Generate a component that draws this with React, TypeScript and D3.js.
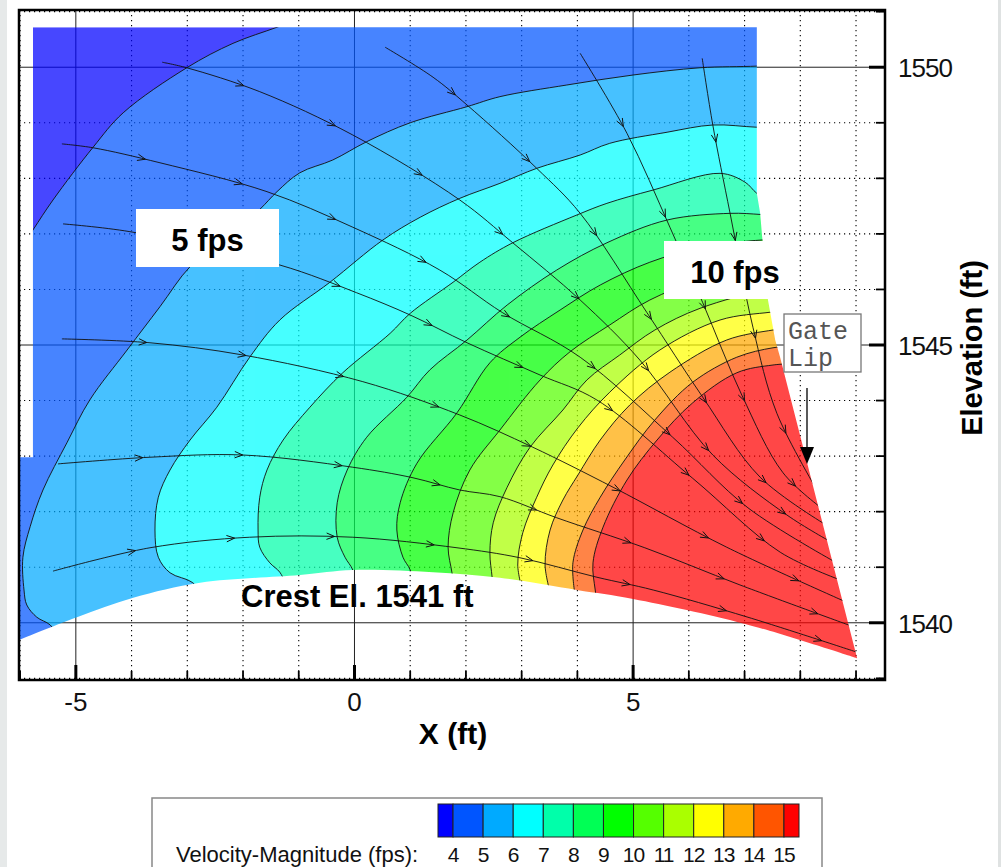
import { useEffect, useRef } from "react";
import * as d3 from "d3";

type Pt = [number, number];

// velocity levels (fps) and the legend colours (13 bands: <4, 4-5, ... 14-15, >15)
const levels = [4, 5, 6, 7, 8, 9, 10, 11, 12, 13, 14, 15];
const bandColors = [
  "#0000ff", "#0055ff", "#00aaff", "#00ffff", "#00ffaa", "#00ff55", "#00ff00",
  "#55ff00", "#aaff00", "#ffff00", "#ffaa00", "#ff5500", "#ff0000",
];

// isolines: [X ft, elevation ft], upper/right end first
const iso4: Pt[] = [[-0.8, 1550.94], [-1.39, 1550.72], [-2.18, 1550.43], [-3.01, 1549.99], [-4.15, 1549.18], [-4.69, 1548.56], [-5.41, 1547.61], [-5.77, 1547.07], [-6.18, 1546.44]];
const iso5: Pt[] = [[7.82, 1550.06], [7.22, 1550.02], [6.2, 1549.99], [5.0, 1549.86], [3.81, 1549.68], [2.61, 1549.47], [2.02, 1549.29], [1.0, 1549.0], [0.22, 1548.66], [-0.39, 1548.33], [-0.98, 1548.1], [-1.39, 1547.76], [-1.7, 1547.44], [-2.32, 1546.9], [-2.95, 1546.41], [-3.49, 1545.69], [-4.08, 1544.91], [-4.75, 1544.01], [-5.16, 1543.24], [-5.59, 1542.39], [-5.82, 1541.73], [-5.95, 1541.18], [-5.93, 1540.59], [-5.88, 1540.32], [-5.7, 1540.1], [-5.46, 1539.96], [-5.25, 1539.65]];
const iso6: Pt[] = [[7.82, 1548.91], [7.22, 1548.92], [6.43, 1548.96], [5.61, 1548.83], [4.58, 1548.63], [4.05, 1548.42], [3.27, 1548.18], [2.61, 1547.91], [1.89, 1547.64], [1.18, 1547.3], [0.51, 1546.89], [-0.44, 1546.13], [-1.34, 1545.45], [-1.88, 1544.78], [-2.47, 1543.88], [-2.95, 1543.29], [-3.31, 1542.75], [-3.52, 1542.26], [-3.58, 1541.67], [-3.52, 1541.18], [-3.31, 1540.9], [-2.9, 1540.72], [-2.68, 1540.41]];
const iso7: Pt[] = [[7.55, 1547.52], [7.22, 1547.73], [7.01, 1547.93], [6.56, 1548.09], [5.36, 1547.79], [4.53, 1547.55], [3.99, 1547.34], [2.84, 1546.84], [2.25, 1546.49], [1.77, 1546.13], [1.0, 1545.57], [0.64, 1545.21], [-0.21, 1544.5], [-0.8, 1543.88], [-1.28, 1543.29], [-1.57, 1542.75], [-1.7, 1542.26], [-1.73, 1541.67], [-1.7, 1541.36], [-1.52, 1541.08], [-1.34, 1540.91], [-1.16, 1540.55]];
const iso8: Pt[] = [[7.64, 1547.32], [7.28, 1547.35], [6.74, 1547.37], [5.61, 1547.25], [4.53, 1546.84], [3.63, 1546.35], [2.74, 1545.72], [2.02, 1545.09], [1.35, 1544.55], [0.94, 1544.06], [0.22, 1543.34], [-0.13, 1542.75], [-0.31, 1542.16], [-0.31, 1541.54], [-0.17, 1541.18], [-0.03, 1540.95], [0.06, 1540.55]];
const iso9: Pt[] = [[7.73, 1546.89], [7.31, 1546.89], [6.2, 1546.75], [5.3, 1546.49], [4.41, 1546.08], [3.69, 1545.63], [2.97, 1545.14], [2.43, 1544.68], [1.84, 1543.78], [1.12, 1542.87], [0.82, 1542.16], [0.76, 1541.67], [0.87, 1541.18], [1.0, 1540.95], [1.09, 1540.55]];
const iso10: Pt[] = [[7.73, 1546.44], [7.37, 1546.44], [6.2, 1546.17], [5.3, 1545.81], [4.58, 1545.36], [3.87, 1544.88], [3.33, 1544.37], [2.61, 1543.47], [2.07, 1542.75], [1.77, 1541.98], [1.68, 1541.36], [1.75, 1540.9], [1.8, 1540.55]];
const iso11: Pt[] = [[7.82, 1545.99], [7.42, 1545.99], [6.2, 1545.66], [5.39, 1545.27], [4.76, 1544.82], [4.17, 1544.37], [3.74, 1543.83], [3.15, 1543.16], [2.74, 1542.44], [2.49, 1541.8], [2.43, 1541.26], [2.47, 1540.82], [2.5, 1540.46]];
const iso12: Pt[] = [[7.82, 1545.63], [7.46, 1545.59], [6.56, 1545.45], [5.48, 1544.91], [4.58, 1544.15], [4.01, 1543.51], [3.56, 1542.84], [3.27, 1542.26], [3.02, 1541.62], [2.93, 1541.04], [3.01, 1540.59]];
const iso13: Pt[] = [[7.82, 1545.31], [7.51, 1545.27], [6.68, 1545.09], [5.66, 1544.51], [4.94, 1543.92], [4.41, 1543.29], [4.01, 1542.66], [3.74, 1542.21], [3.51, 1541.67], [3.42, 1541.04], [3.51, 1540.55]];
const iso14: Pt[] = [[7.9, 1544.98], [7.51, 1544.95], [6.86, 1544.78], [6.07, 1544.33], [5.39, 1543.65], [4.85, 1542.93], [4.41, 1542.26], [4.1, 1541.67], [3.92, 1541.08], [3.95, 1540.55]];
const iso15: Pt[] = [[7.99, 1544.67], [7.51, 1544.64], [6.86, 1544.5], [6.07, 1543.96], [5.43, 1543.29], [4.89, 1542.57], [4.46, 1541.72], [4.28, 1541.08], [4.32, 1540.59], [4.37, 1540.27]];
const isolines = [iso4, iso5, iso6, iso7, iso8, iso9, iso10, iso11, iso12, iso13, iso14, iso15];

// flow region: upstream edge, top, gate lip and gate face, then the crest
const domainOutline: Pt[] = [[-6.3, 1542.98], [-5.77, 1542.98], [-5.77, 1550.72], [7.22, 1550.72], [7.22, 1547.73], [7.28, 1547.37], [7.31, 1547.01], [7.42, 1545.81], [7.55, 1545.09], [7.64, 1544.77], [9.02, 1539.36]];
const crest: Pt[] = [[9.02, 1539.36], [7.01, 1539.98], [5.0, 1540.43], [3.99, 1540.59], [2.61, 1540.81], [1.41, 1540.91], [-0.03, 1540.95], [-0.98, 1540.86], [-2.77, 1540.72], [-3.97, 1540.45], [-4.98, 1540.1], [-6.02, 1539.69], [-6.3, 1539.57]];

// streamlines
const sT3: Pt[] = [[6.24, 1550.16], [6.43, 1548.96], [6.74, 1547.37], [7.15, 1545.32], [7.58, 1543.77], [8.35, 1542.3]];
const sT2: Pt[] = [[4.05, 1550.25], [4.89, 1548.81], [5.66, 1547.12], [6.25, 1545.76], [6.95, 1544.1], [7.69, 1542.7], [8.4, 1542.05]];
const sT1: Pt[] = [[0.55, 1550.36], [1.41, 1549.82], [2.02, 1549.32], [3.27, 1548.18], [4.05, 1547.37], [5.25, 1545.58], [6.25, 1544.06], [7.28, 1542.62], [8.48, 1541.75]];
const sL1: Pt[] = [[-3.45, 1550.09], [-3.01, 1549.99], [-1.7, 1549.56], [-0.03, 1548.78], [1.89, 1547.61], [2.84, 1546.84], [4.05, 1545.81], [5.12, 1544.73], [6.43, 1543.02], [7.76, 1541.94], [8.56, 1541.45]];
const sL2: Pt[] = [[-5.25, 1548.62], [-4.69, 1548.55], [-3.49, 1548.28], [-1.57, 1547.76], [-0.03, 1547.12], [1.53, 1546.35], [2.66, 1545.58], [4.05, 1544.78], [5.71, 1543.34], [7.06, 1542.07], [8.65, 1541.08]];
const sL3: Pt[] = [[-5.23, 1547.18], [-4.03, 1547.04], [-1.34, 1546.44], [0.04, 1545.94], [1.0, 1545.54], [2.02, 1545.04], [3.33, 1544.46], [4.35, 1544.01], [6.07, 1542.6], [7.64, 1541.27], [8.72, 1540.77]];
const sL4: Pt[] = [[-5.25, 1545.11], [-3.67, 1545.04], [-2.0, 1544.82], [0.15, 1544.34], [1.89, 1543.74], [3.2, 1543.16], [4.64, 1542.44], [6.68, 1541.36], [8.83, 1540.37]];
const sL5: Pt[] = [[-5.32, 1542.86], [-3.67, 1542.98], [-2.0, 1543.02], [-0.03, 1542.8], [1.05, 1542.61], [1.89, 1542.39], [2.61, 1542.27], [3.63, 1541.89], [5.21, 1541.35], [6.92, 1540.68], [8.95, 1539.93]];
const sL6: Pt[] = [[-5.41, 1540.93], [-3.67, 1541.35], [-1.88, 1541.54], [-0.03, 1541.54], [1.84, 1541.35], [2.97, 1541.17], [4.35, 1540.82], [5.36, 1540.59], [7.06, 1540.1], [9.05, 1539.46]];
const streamlines = [sT3, sT2, sT1, sL1, sL2, sL3, sL4, sL5, sL6];

const xMajor = [-5, 0, 5];
const yMajor = [1540, 1545, 1550];
const xTicks = [-6, -5, -4, -3, -2, -1, 0, 1, 2, 3, 4, 5, 6, 7, 8, 9];
const yTicks = [1539, 1540, 1541, 1542, 1543, 1544, 1545, 1546, 1547, 1548, 1549, 1550, 1551];

const FONT = "'Liberation Sans', Arial, Helvetica, sans-serif";

export default function App() {
  const svgRef = useRef<SVGSVGElement>(null);

  useEffect(() => {
    document.body.style.margin = "0";
    const svg = d3.select(svgRef.current);
    svg.selectAll("*").remove();

    const left = 19, right = 885, top = 10, bottom = 680;
    const x = d3.scaleLinear().domain([-6.02, 9.52]).range([left, right]);
    const y = d3.scaleLinear().domain([1538.97, 1551.03]).range([bottom, top]);

    const lin = d3.line<Pt>().x(d => x(d[0])).y(d => y(d[1]));
    const smooth = d3.line<Pt>().x(d => x(d[0])).y(d => y(d[1])).curve(d3.curveCatmullRom.alpha(0.5));

    const domainD = lin(domainOutline)! + smooth(crest)!.replace(/^M/, "L") + "Z";

    // region on the gate side of an isoline
    const bandD = (pts: Pt[]) => {
      const a = pts[0], b = pts[pts.length - 1];
      return smooth(pts)! +
        `L${x(b[0])},${y(1535)}L${x(15)},${y(1535)}L${x(15)},${y(1560)}L${x(a[0])},${y(1560)}Z`;
    };

    svg.append("rect").attr("width", 1001).attr("height", 867).attr("fill", "#fff");
    svg.append("rect").attr("width", 7).attr("height", 867).attr("fill", "#e6e9e9");
    svg.append("rect").attr("x", 998).attr("width", 3).attr("height", 867).attr("fill", "#dfe2e2");

    const defs = svg.append("defs");
    defs.append("clipPath").attr("id", "plotClip").append("rect")
      .attr("x", left).attr("y", top).attr("width", right - left).attr("height", bottom - top);
    defs.append("clipPath").attr("id", "domClip").append("path").attr("d", domainD);

    // grid (drawn under the translucent field)
    const grid = svg.append("g").attr("clip-path", "url(#plotClip)");
    xTicks.forEach(v => {
      const major = xMajor.includes(v);
      grid.append("line").attr("x1", x(v)).attr("x2", x(v)).attr("y1", top).attr("y2", bottom)
        .attr("stroke", major ? "#222" : "#000").attr("stroke-width", major ? 1 : 1.1)
        .attr("stroke-dasharray", major ? null : "1.2,3.8");
    });
    yTicks.forEach(v => {
      const major = yMajor.includes(v);
      grid.append("line").attr("x1", left).attr("x2", right).attr("y1", y(v)).attr("y2", y(v))
        .attr("stroke", major ? "#222" : "#000").attr("stroke-width", major ? 1 : 1.1)
        .attr("stroke-dasharray", major ? null : "1.2,3.8");
    });

    // filled velocity bands
    const field = svg.append("g").attr("clip-path", "url(#plotClip)")
      .append("g").attr("clip-path", "url(#domClip)").attr("opacity", 0.72);
    field.append("path").attr("d", domainD).attr("fill", bandColors[0]);
    isolines.forEach((pts, i) => {
      field.append("path").attr("d", bandD(pts)).attr("fill", bandColors[i + 1]);
    });

    // isoline strokes
    const lines = svg.append("g").attr("clip-path", "url(#plotClip)")
      .append("g").attr("clip-path", "url(#domClip)");
    isolines.forEach(pts => {
      lines.append("path").attr("d", smooth(pts)).attr("fill", "none")
        .attr("stroke", "#111").attr("stroke-width", 1).attr("opacity", 0.9);
    });

    // streamlines with arrowheads
    const flow = svg.append("g").attr("clip-path", "url(#plotClip)")
      .append("g").attr("clip-path", "url(#domClip)");
    streamlines.forEach(pts => {
      const p = flow.append("path").attr("d", smooth(pts)).attr("fill", "none")
        .attr("stroke", "#111").attr("stroke-width", 0.9);
      const node = p.node() as SVGPathElement;
      const len = node.getTotalLength();
      for (let s = 85; s < len - 12; s += 100) {
        const a = node.getPointAtLength(s);
        const b = node.getPointAtLength(s - 3);
        const ang = Math.atan2(a.y - b.y, a.x - b.x);
        const c = Math.cos(ang), sn = Math.sin(ang);
        const bx = a.x - 8 * c, by = a.y - 8 * sn;
        flow.append("path")
          .attr("d", `M${bx - 3.2 * sn},${by + 3.2 * c}L${a.x},${a.y}L${bx + 3.2 * sn},${by - 3.2 * c}`)
          .attr("fill", "none").attr("stroke", "#111").attr("stroke-width", 1);
      }
    });

    // frame and ticks
    svg.append("rect").attr("x", left).attr("y", top).attr("width", right - left).attr("height", bottom - top)
      .attr("fill", "none").attr("stroke", "#000").attr("stroke-width", 2.5);
    xTicks.forEach(v => {
      const major = xMajor.includes(v);
      svg.append("line").attr("x1", x(v)).attr("x2", x(v)).attr("y1", bottom).attr("y2", bottom - (major ? 15 : 9))
        .attr("stroke", "#000").attr("stroke-width", major ? 3 : 1.8);
    });
    yTicks.forEach(v => {
      const major = yMajor.includes(v);
      svg.append("line").attr("x1", right).attr("x2", right - (major ? 16 : 9)).attr("y1", y(v)).attr("y2", y(v))
        .attr("stroke", "#000").attr("stroke-width", major ? 3 : 1.8);
    });

    xMajor.forEach(v => {
      svg.append("text").attr("x", x(v)).attr("y", 711).attr("text-anchor", "middle")
        .attr("font-family", FONT).attr("font-size", 26).attr("fill", "#111").text(String(v));
    });
    yMajor.forEach(v => {
      svg.append("text").attr("x", 898).attr("y", y(v) + 10).attr("font-family", FONT)
        .attr("font-size", 26).attr("letter-spacing", -1).attr("fill", "#111").text(String(v));
    });
    svg.append("text").attr("x", 453).attr("y", 744).attr("text-anchor", "middle")
      .attr("font-family", FONT).attr("font-weight", "bold").attr("font-size", 30).text("X (ft)");
    svg.append("text").attr("transform", "translate(982,348) rotate(-90)").attr("text-anchor", "middle")
      .attr("font-family", FONT).attr("font-weight", "bold").attr("font-size", 29).text("Elevation (ft)");

    // annotations
    svg.append("rect").attr("x", 136).attr("y", 209).attr("width", 143).attr("height", 58).attr("fill", "#fff");
    svg.append("text").attr("x", 207.5).attr("y", 251).attr("text-anchor", "middle")
      .attr("font-family", FONT).attr("font-weight", "bold").attr("font-size", 31).text("5 fps");
    svg.append("rect").attr("x", 664).attr("y", 241).attr("width", 106).attr("height", 58).attr("fill", "#fff");
    svg.append("text").attr("x", 735).attr("y", 283).attr("text-anchor", "middle")
      .attr("font-family", FONT).attr("font-weight", "bold").attr("font-size", 31).text("10 fps");
    svg.append("text").attr("x", 241).attr("y", 607)
      .attr("font-family", FONT).attr("font-weight", "bold").attr("font-size", 31).text("Crest El. 1541 ft");

    svg.append("rect").attr("x", 784).attr("y", 314).attr("width", 77).attr("height", 58)
      .attr("fill", "#fff").attr("stroke", "#777").attr("stroke-width", 1.3);
    ["Gate", "Lip"].forEach((t, i) => {
      svg.append("text").attr("x", 788).attr("y", 339 + i * 27)
        .attr("font-family", "'Liberation Mono', 'Courier New', monospace").attr("font-size", 25)
        .attr("fill", "#555").text(t);
    });
    svg.append("line").attr("x1", 807).attr("x2", 807).attr("y1", 388).attr("y2", 449)
      .attr("stroke", "#000").attr("stroke-width", 1.3);
    svg.append("path").attr("d", "M800,447L814,447L807,464Z").attr("fill", "#000");

    // legend
    svg.append("rect").attr("x", 152).attr("y", 798).attr("width", 670).attr("height", 90)
      .attr("fill", "#fff").attr("stroke", "#888").attr("stroke-width", 1.5);
    const cb = d3.scaleLinear().domain([3.5, 15.5]).range([438, 799]);
    const edges = [3.5, ...levels, 15.5];
    bandColors.forEach((c, i) => {
      svg.append("rect").attr("x", cb(edges[i])).attr("y", 804)
        .attr("width", cb(edges[i + 1]) - cb(edges[i])).attr("height", 33)
        .attr("fill", c).attr("stroke", "#222").attr("stroke-width", 1);
    });
    levels.forEach(v => {
      svg.append("text").attr("x", cb(v)).attr("y", 862).attr("text-anchor", "middle")
        .attr("font-family", FONT).attr("font-size", 21).attr("letter-spacing", -1)
        .attr("fill", "#111").text(String(v));
    });
    svg.append("text").attr("x", 176).attr("y", 862).attr("font-family", FONT)
      .attr("font-size", 22).attr("fill", "#111").text("Velocity-Magnitude (fps):");
  }, []);

  return <svg ref={svgRef} width={1001} height={867} style={{ display: "block" }} />;
}
